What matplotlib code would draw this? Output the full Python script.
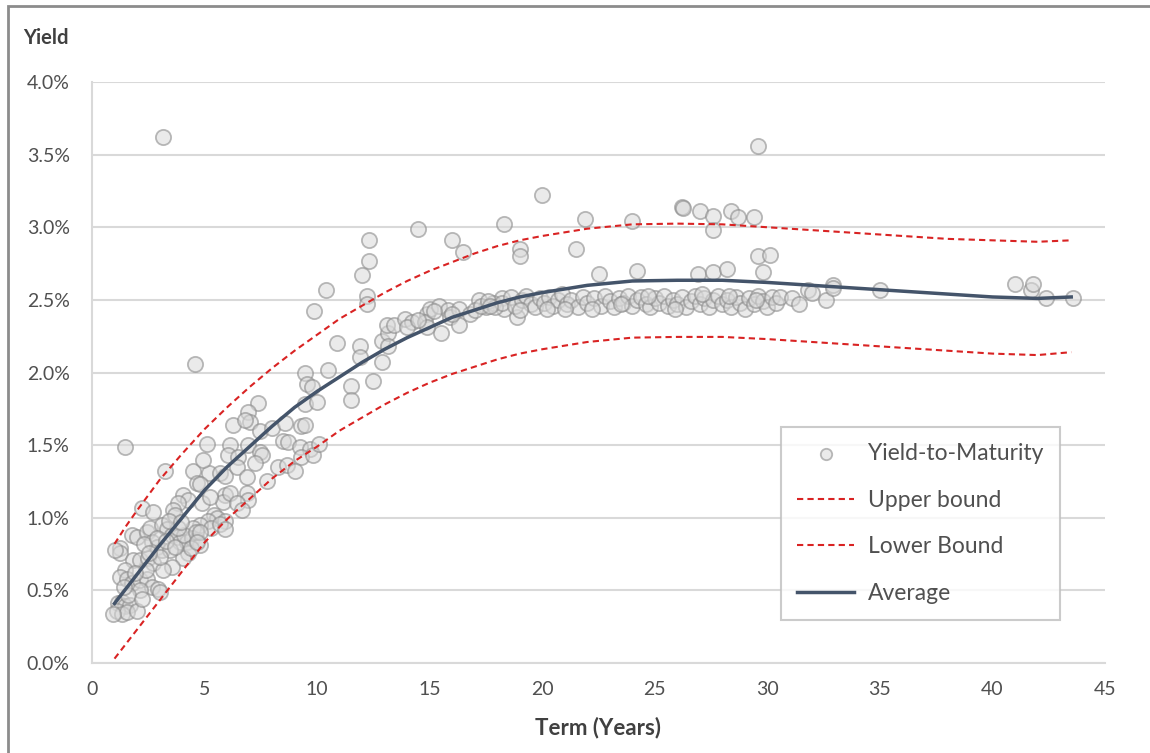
import matplotlib.pyplot as plt
from matplotlib.patches import Rectangle
from matplotlib.ticker import FuncFormatter, MultipleLocator

plt.rcParams['font.family'] = ['Lato', 'DejaVu Sans']

# yield-to-maturity observations (term in years, yield in %)
term_short = [3.24, 4.5, 5.2, 5.7, 4.66, 4.8, 4.04, 4.27, 3.82, 3.6, 3.69, 2.2, 2.7, 5.9, 5.8,
              5.4, 5.55, 5.9, 5.15, 4.8, 4.5, 1.77, 1.24, 1.24, 2.0, 2.44, 2.58, 3.1, 3.33, 3.55,
              3.77, 3.9, 4.2, 4.44, 4.66, 4.8, 4.27, 4.04, 2.66, 2.88, 3.1, 3.46, 1.82, 2.13, 2.5,
              2.7, 3.55, 3.15, 1.47, 1.24, 1.55, 1.77, 2.13, 2.44, 2.66, 2.93, 2.13, 1.15, 1.33,
              1.47, 1.69, 1.11, 1.33, 1.55, 0.93, 2.0, 3.0, 1.47, 3.15,
              2.3, 2.9, 3.3, 3.7, 4.1, 4.4, 3.0, 3.8, 2.4, 1.9, 1.6, 2.2, 1.0, 3.4, 4.9, 5.3,
              2.55, 3.95, 4.6, 1.4]
yield_short = [1.32, 1.32, 1.31, 1.31, 1.24, 1.23, 1.16, 1.12, 1.10, 1.05, 1.02, 1.07, 1.04, 1.16, 1.11,
               1.02, 1.00, 0.98, 0.98, 0.95, 0.93, 0.88, 0.79, 0.76, 0.87, 0.90, 0.93, 0.95, 0.92, 0.88,
               0.87, 0.83, 0.83, 0.86, 0.85, 0.81, 0.76, 0.72, 0.83, 0.80, 0.78, 0.78, 0.71, 0.71, 0.72,
               0.69, 0.66, 0.64, 0.64, 0.59, 0.58, 0.55, 0.57, 0.58, 0.52, 0.51, 0.50, 0.41, 0.42,
               0.39, 0.40, 0.36, 0.34, 0.35, 0.34, 0.36, 0.49, 1.49, 3.62,
               0.82, 0.86, 0.84, 0.80, 0.88, 0.79, 0.73, 0.93, 0.64, 0.62, 0.47, 0.44, 0.78, 0.98,
               1.10, 0.93, 0.76, 0.97, 0.90, 0.52]

term_mid = [4.58, 9.46, 7.37, 6.93, 7.0, 6.26, 6.8, 7.46, 8.0, 8.57, 9.3, 9.46, 8.5, 8.7, 5.1,
            6.13, 6.93, 7.46, 7.55, 6.04, 6.5, 4.93, 7.24, 9.24, 9.7, 9.3, 9.8, 10.1, 5.9, 6.44,
            6.9, 8.26, 8.66, 9.0, 7.77, 6.13, 5.24, 6.88, 6.93, 6.44, 6.66, 5.7, 5.9, 4.8, 4.66,
            9.46, 9.55, 9.77, 10.0]
yield_mid = [2.06, 1.78, 1.79, 1.73, 1.66, 1.64, 1.67, 1.60, 1.62, 1.65, 1.63, 1.64, 1.53, 1.52, 1.51,
             1.50, 1.50, 1.45, 1.43, 1.43, 1.42, 1.40, 1.38, 1.49, 1.47, 1.42, 1.43, 1.51, 1.29, 1.35,
             1.28, 1.35, 1.36, 1.32, 1.25, 1.17, 1.14, 1.17, 1.12, 1.10, 1.05, 0.96, 0.92, 0.90, 0.83,
             2.00, 1.92, 1.90, 1.80]

term_upper = [10.4, 9.86, 12.3, 12.3, 12.0, 12.2, 12.2, 10.9, 11.9, 11.9, 12.9, 13.15, 13.1, 13.4, 13.9,
              14.2, 14.0, 13.15, 12.9, 12.5, 10.5, 11.5, 11.5, 14.5, 16.0, 16.5, 18.3,
              14.9, 15.0, 15.4, 15.8, 15.5, 15.9, 16.3, 16.3, 16.8, 17.2, 17.5, 18.2, 18.3, 14.8,
              14.9, 14.5, 16.0, 17.0, 17.8, 15.2]
yield_upper = [2.57, 2.42, 2.91, 2.77, 2.67, 2.53, 2.47, 2.20, 2.18, 2.11, 2.22, 2.27, 2.33, 2.33, 2.37,
               2.35, 2.31, 2.18, 2.07, 1.94, 2.02, 1.91, 1.81, 2.99, 2.91, 2.83, 3.02,
               2.40, 2.44, 2.46, 2.43, 2.27, 2.38, 2.44, 2.33, 2.40, 2.50, 2.45, 2.51, 2.44, 2.35,
               2.31, 2.36, 2.40, 2.43, 2.48, 2.42]

term_long = [20.0, 19.0, 19.0, 21.9, 21.5, 24.0, 22.5, 24.2, 26.2, 26.25, 27.0, 27.6, 27.6, 28.4, 28.7,
             29.4, 26.9, 27.6, 28.2, 29.6, 30.1, 29.8, 18.9, 29.6,
             17.3, 17.6, 17.9, 18.2, 18.6, 18.8, 19.1, 19.3, 19.5, 19.7, 19.9, 20.1, 20.3, 20.5, 20.7,
             20.9, 21.1, 21.3, 21.6, 21.8, 22.0, 22.3, 22.6, 22.8, 23.0, 23.2, 23.4, 23.6, 23.8, 24.0,
             24.2, 24.4, 24.6, 24.8, 25.0, 25.2, 25.4, 25.6, 25.8, 26.0, 26.2, 26.4, 26.6, 26.8, 27.0,
             27.2, 27.4, 27.6, 27.8, 28.0, 28.2, 28.4, 28.6, 28.8, 29.0, 29.2, 29.4, 29.6, 29.8, 30.0,
             30.2, 30.4, 19.0, 20.2, 21.0, 22.2, 23.5, 24.7, 25.9, 27.1, 28.3, 29.5, 17.7,
             30.56, 31.1, 31.4, 31.8, 32.0, 32.6, 32.9, 32.9, 35.0, 41.0, 41.7, 41.8, 42.4, 43.6]
yield_long = [3.22, 2.85, 2.80, 3.06, 2.85, 3.04, 2.68, 2.70, 3.14, 3.13, 3.11, 3.08, 2.98, 3.11, 3.07,
              3.07, 2.68, 2.69, 2.71, 2.80, 2.81, 2.69, 2.38, 3.56,
              2.46, 2.49, 2.45, 2.48, 2.52, 2.46, 2.50, 2.53, 2.47, 2.45, 2.51, 2.48, 2.52, 2.46, 2.50,
              2.54, 2.47, 2.50, 2.45, 2.52, 2.48, 2.51, 2.46, 2.53, 2.49, 2.45, 2.51, 2.48, 2.53, 2.46,
              2.50, 2.52, 2.47, 2.45, 2.51, 2.48, 2.53, 2.46, 2.50, 2.47, 2.52, 2.45, 2.49, 2.53, 2.47,
              2.51, 2.45, 2.50, 2.53, 2.47, 2.50, 2.45, 2.52, 2.48, 2.44, 2.51, 2.47, 2.53, 2.49, 2.45,
              2.52, 2.48, 2.43, 2.44, 2.44, 2.44, 2.47, 2.53, 2.44, 2.54, 2.53, 2.50, 2.46,
              2.52, 2.51, 2.47, 2.57, 2.55, 2.50, 2.60, 2.58, 2.57, 2.61, 2.57, 2.61, 2.51, 2.51]

# fitted curve and bounds
curve_term = [1, 1.5, 2, 3, 4, 5, 6, 7, 8, 9, 10, 11, 12, 13, 14, 15, 16, 17, 18, 19, 20,
              22, 24, 26, 28, 30, 32, 34, 36, 38, 40, 42, 43.5]
avg_yield = [0.41, 0.51, 0.61, 0.81, 1.00, 1.19, 1.35, 1.49, 1.63, 1.76, 1.87, 1.97, 2.07, 2.16,
             2.24, 2.31, 2.38, 2.43, 2.48, 2.52, 2.55, 2.60, 2.63, 2.635, 2.635, 2.62, 2.60, 2.58,
             2.56, 2.54, 2.52, 2.51, 2.52]
upper_yield = [0.82, 0.94, 1.05, 1.26, 1.44, 1.61, 1.76, 1.90, 2.03, 2.15, 2.26, 2.37, 2.46, 2.55,
               2.63, 2.70, 2.76, 2.82, 2.87, 2.91, 2.94, 2.99, 3.02, 3.025, 3.02, 3.00, 2.98, 2.96,
               2.94, 2.92, 2.91, 2.90, 2.91]
lower_yield = [0.03, 0.13, 0.23, 0.43, 0.63, 0.83, 0.99, 1.13, 1.27, 1.39, 1.49, 1.60, 1.69, 1.78,
               1.86, 1.93, 1.99, 2.04, 2.09, 2.13, 2.16, 2.21, 2.24, 2.245, 2.245, 2.23, 2.21, 2.19,
               2.17, 2.15, 2.13, 2.12, 2.14]

ytm_term = term_short + term_mid + term_upper + term_long
ytm_yield = yield_short + yield_mid + yield_upper + yield_long

fig = plt.figure(figsize=(11.5, 7.53), dpi=100)
ax = fig.add_axes([92 / 1150, 90 / 753, 1013 / 1150, 581 / 753])

grid_c = '#d9d9d9'
text_c = '#505050'
red = '#d92323'

ax.scatter(ytm_term, ytm_yield, s=120, facecolor=(0.85, 0.85, 0.85, 0.55),
           edgecolor=(0.55, 0.55, 0.55, 0.6), linewidth=1.3, zorder=3, label='Yield-to-Maturity')
ax.plot(curve_term, upper_yield, color=red, lw=1.5, ls=(0, (3, 2)), zorder=4, label='Upper bound')
ax.plot(curve_term, lower_yield, color=red, lw=1.5, ls=(0, (3, 2)), zorder=4, label='Lower Bound')
ax.plot(curve_term, avg_yield, color='#44546a', lw=2.5, zorder=5, label='Average')

ax.set_xlim(0, 45)
ax.set_ylim(0, 4.0)
ax.xaxis.set_major_locator(MultipleLocator(5))
ax.yaxis.set_major_locator(MultipleLocator(0.5))
ax.yaxis.set_major_formatter(FuncFormatter(lambda v, p: f'{v:.1f}%'))
ax.grid(axis='y', color=grid_c, lw=1.5, zorder=0)
ax.set_axisbelow(True)
for side in ['top', 'right']:
    ax.spines[side].set_visible(False)
for side in ['left', 'bottom']:
    ax.spines[side].set_color(grid_c)
    ax.spines[side].set_linewidth(1.5)
ax.tick_params(axis='both', length=0, labelsize=14, labelcolor=text_c)
ax.tick_params(axis='y', pad=16)
ax.tick_params(axis='x', pad=13)

fig.text(23 / 1150, 1 - 38 / 753, 'Yield', ha='left', va='center', fontsize=14.5,
         fontweight='bold', color='#404040')
fig.text(598 / 1150, 1 - 728 / 753, 'Term (Years)', ha='center', va='center', fontsize=16,
         fontweight='bold', color='#404040')

leg = ax.legend(loc='upper left', bbox_to_anchor=(781 / 1150, 1 - 427 / 753),
                bbox_transform=fig.transFigure, fontsize=16.5, frameon=True, fancybox=False,
                borderaxespad=0, borderpad=0.7, labelspacing=1.12, handlelength=2.5,
                handletextpad=0.6, markerscale=0.75)
leg.get_frame().set_edgecolor('#bfbfbf')
leg.get_frame().set_linewidth(1.5)
for t in leg.get_texts():
    t.set_color(text_c)

# outer chart border
fig.patches.append(Rectangle((8 / 1150, -0.1), 1.2, 1 - 6 / 753 + 0.1, transform=fig.transFigure,
                             fill=False, edgecolor='#8c8c8c', lw=2))

plt.savefig('out.png', dpi=100)
